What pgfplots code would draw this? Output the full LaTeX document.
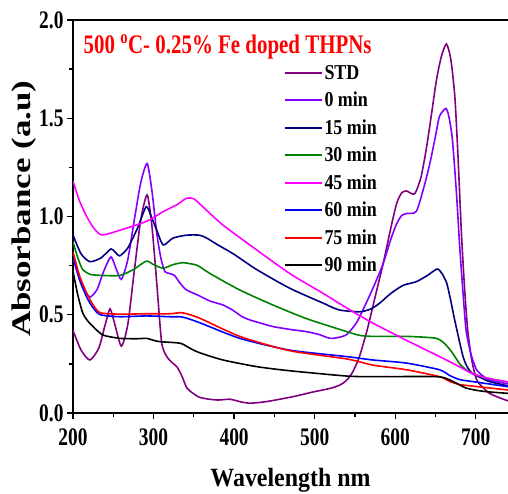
\documentclass[border=0pt]{standalone}
\usepackage{fontspec}
\setmainfont{Liberation Serif}
\usepackage{pgfplots}
\pgfplotsset{compat=1.18}
\definecolor{cstd}{RGB}{128,0,128}
\definecolor{czero}{RGB}{128,0,255}
\definecolor{cnavy}{RGB}{0,0,128}
\definecolor{cgreen}{RGB}{0,128,0}
\definecolor{cmag}{RGB}{255,0,255}
\definecolor{cblue}{RGB}{0,0,255}
\definecolor{cred}{RGB}{255,0,0}
\pgfplotsset{
  mylegimg/.style={legend image code/.code={\draw[#1, line width=2pt] (0bp,0bp) -- (37bp,0bp);}}
}
\begin{document}
\begin{tikzpicture}
\begin{axis}[
  width=435bp, height=393bp, scale only axis,
  xmin=200, xmax=740, ymin=0, ymax=2,
  axis y line*=left, axis x line*=box,
  xtick pos=bottom,
  axis line style={line width=1.5pt},
  every tick/.style={black, line width=1.3pt},
  tick align=outside,
  major tick length=6bp, minor tick length=4bp,
  xtick={200,300,...,700}, minor xtick={250,350,...,750},
  ytick={0,0.5,...,2}, minor ytick={0.25,0.75,...,1.75},
  /pgf/number format/assume math mode=true,
  yticklabel style={/pgf/number format/.cd, fixed, fixed zerofill, precision=1},
  every tick label/.append style={font=\bfseries\fontsize{19.5}{19.5}\selectfont, yscale=1.3},
  xticklabel style={yshift=-4bp},
  xlabel={\scalebox{1}[1.1]{Wavelength nm}},
  ylabel={\scalebox{1.3}[1]{Absorbance (a.u)}},
  xlabel style={font=\bfseries\fontsize{24}{24}\selectfont, at={(axis description cs:0.5,0)}, anchor=base, yshift=-73bp},
  ylabel style={font=\bfseries\fontsize{27}{27}\selectfont, at={(axis description cs:-0.112,0.52)}, anchor=center},
  clip=true,
  legend cell align=left,
  legend style={draw=none, fill=none, at={(axis cs:458,1.79)}, anchor=north west,
     font=\bfseries\fontsize{18}{18}\selectfont, row sep=7.5bp,
     nodes={yscale=1.18, inner sep=1.5bp}},
  every axis plot/.append style={line width=1.6pt, smooth, tension=0.4},
]
\addplot[cstd, mylegimg=cstd] coordinates {
(200,0.42) (210,0.32) (221,0.27) (232,0.33) (240,0.45) (246,0.53) (252,0.45) (260,0.34)
(268,0.45) (276,0.72) (284,0.98) (292,1.11) (298,0.95) (304,0.66) (310,0.36) (316,0.29)
(322,0.26) (329,0.235) (335,0.19) (341,0.13) (349,0.10) (357,0.08) (366,0.072) (380,0.066)
(395,0.07) (408,0.057) (420,0.05) (440,0.058) (473,0.083) (498,0.107) (519,0.125) (530,0.14)
(538,0.16) (546,0.2) (555,0.28) (565,0.42) (575,0.59) (585,0.76) (595,0.95) (602,1.07)
(608,1.12) (614,1.13) (624,1.115) (632,1.2) (639,1.355) (645,1.52) (651,1.69) (657,1.81)
(663.5,1.878) (669,1.80) (674,1.61) (678,1.30) (682,0.93) (686,0.64) (690,0.42) (695,0.27)
(701,0.17) (710,0.125) (717,0.10) (728,0.08) (740,0.062)};
\addlegendentry{STD}
\addplot[czero, mylegimg=czero] coordinates {
(200,0.79) (205,0.72) (212,0.64) (221,0.59) (230,0.63) (238,0.72) (247,0.795) (253,0.74)
(260,0.68) (268,0.78) (276,0.98) (284,1.17) (292,1.27) (298,1.13) (304,0.915) (309,0.79)
(314,0.72) (320,0.71) (326,0.70) (333,0.66) (341,0.626) (355,0.60) (370,0.57) (386,0.55)
(398,0.524) (410,0.49) (420,0.473) (435,0.455) (448,0.44) (470,0.425) (490,0.414) (505,0.40)
(519,0.38) (530,0.385) (540,0.40) (552,0.46) (564,0.56) (575,0.66) (585,0.76) (595,0.89)
(602,0.965) (608,1.005) (614,1.015) (626,1.025) (635,1.14) (643,1.27) (650,1.41) (655,1.51)
(663,1.55) (667,1.50) (671,1.39) (676,1.12) (680,0.85) (684,0.62) (688,0.42) (694,0.30)
(701,0.22) (710,0.185) (717,0.168) (740,0.148)};
\addlegendentry{0 min}
\addplot[cnavy, mylegimg=cnavy] coordinates {
(200,0.906) (210,0.81) (221,0.77) (235,0.79) (247,0.835) (252,0.82) (258,0.80) (268,0.84)
(280,0.94) (291,1.05) (298,0.99) (304,0.93) (312,0.855) (324,0.89) (341,0.905) (357,0.905)
(366,0.89) (380,0.855) (399,0.81) (428,0.73) (469,0.635) (510,0.56) (530,0.525) (556,0.515)
(570,0.53) (581,0.56) (595,0.61) (610,0.65) (626,0.668) (640,0.70) (652,0.733) (658,0.71)
(664,0.66) (669,0.57) (674,0.47) (684,0.29) (690,0.23) (696,0.20) (706,0.18) (717,0.16)
(740,0.138)};
\addlegendentry{15 min}
\addplot[cgreen, mylegimg=cgreen] coordinates {
(200,0.87) (206,0.79) (212,0.73) (222,0.705) (237,0.70) (258,0.70) (275,0.73) (291,0.773)
(300,0.755) (312,0.737) (324,0.755) (336,0.765) (345,0.76) (355,0.75) (370,0.71) (407,0.626)
(448,0.55) (490,0.48) (540,0.414) (556,0.395) (572,0.39) (614,0.39) (651,0.38) (663,0.346)
(672,0.30) (680,0.25) (688,0.22) (696,0.20) (717,0.175) (740,0.158)};
\addlegendentry{30 min}
\addplot[cmag, mylegimg=cmag] coordinates {
(200,1.18) (208,1.08) (217,1.0) (226,0.94) (236,0.906) (258,0.93) (291,0.975) (312,1.025)
(329,1.06) (341,1.093) (350,1.09) (361,1.05) (386,0.957) (428,0.83) (469,0.71) (510,0.61)
(540,0.534) (572,0.458) (614,0.37) (655,0.287) (680,0.235) (696,0.20) (717,0.175) (740,0.158)};
\addlegendentry{45 min}
\addplot[cblue, mylegimg=cblue] coordinates {
(200,0.80) (208,0.68) (217,0.59) (225,0.535) (234,0.50) (258,0.49) (291,0.494) (320,0.49)
(336,0.488) (357,0.46) (407,0.38) (469,0.32) (540,0.287) (572,0.27) (614,0.254) (655,0.22)
(668,0.19) (680,0.17) (696,0.16) (740,0.134)};
\addlegendentry{60 min}
\addplot[cred, mylegimg=cred] coordinates {
(200,0.82) (208,0.70) (217,0.61) (225,0.55) (234,0.51) (258,0.503) (291,0.505) (320,0.505)
(336,0.51) (357,0.483) (407,0.39) (469,0.317) (540,0.275) (572,0.244) (614,0.22) (655,0.185)
(668,0.16) (680,0.145) (696,0.137) (740,0.117)};
\addlegendentry{75 min}
\addplot[black, mylegimg=black] coordinates {
(200,0.72) (206,0.60) (212,0.51) (218,0.47) (225,0.44) (237,0.397) (258,0.38) (280,0.378)
(291,0.38) (300,0.37) (308,0.363) (333,0.355) (345,0.33) (357,0.307) (386,0.27) (428,0.236)
(469,0.215) (540,0.188) (572,0.185) (651,0.185) (668,0.168) (688,0.127) (710,0.11) (740,0.10)};
\addlegendentry{90 min}
\node[anchor=west, inner sep=0pt, text=red, font=\bfseries\fontsize{21}{21}\selectfont, yscale=1.28]
  at (axis cs:213,1.863) {500 \textsuperscript{o}C- 0.25\% Fe doped THPNs};
\end{axis}
\pgfresetboundingbox
\path[use as bounding box] ([shift={(-73bp,-80bp)}]current axis.south west) rectangle ([shift={(0bp,20bp)}]current axis.north east);
\end{tikzpicture}
\end{document}
